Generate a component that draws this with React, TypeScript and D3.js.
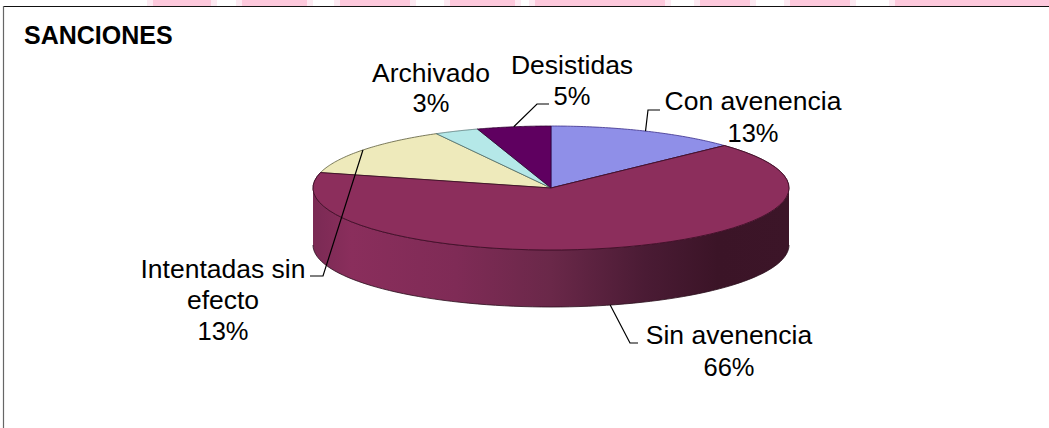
import React from "react";
import * as d3 from "d3";

const categories = ["Con avenencia", "Sin avenencia", "Intentadas sin efecto", "Archivado", "Desistidas"];
const values = [13, 66, 13, 3, 5];
const percentLabels = ["13%", "66%", "13%", "3%", "5%"];
const colors = ["#8f8fe8", "#8c2e5c", "#eeeabb", "#b5e8e8", "#5f0060"];
const strokes = ["#3b2f8a", "#4a1530", "#5b5b3a", "#4f7070", "#2e0030"];
const labelLines = [["Con avenencia"], ["Sin avenencia"], ["Intentadas sin", "efecto"], ["Archivado"], ["Desistidas"]];

const W = 1049, H = 428;
const cx = 551, cy = 188, rx = 238, ry = 62, depth = 57;
const FONT = "'Liberation Sans', Arial, sans-serif";

// projection of the flat pie onto the tilted ellipse
const px = d3.scaleLinear().domain([-1, 1]).range([cx - rx, cx + rx]);
const py = d3.scaleLinear().domain([-1, 1]).range([cy - ry, cy + ry]);
const pt = (a: number, dy = 0): [number, number] => [px(Math.sin(a)), py(-Math.cos(a)) + dy];

const arcs = d3.pie<number>().sort(null)(values);

function topPath(a0: number, a1: number) {
  const pts = d3.range(0, 61).map((i) => pt(a0 + ((a1 - a0) * i) / 60));
  return "M" + cx + "," + cy + "L" + pts.map((p) => p.join(",")).join("L") + "Z";
}
function wallPath(a0: number, a1: number) {
  const top = d3.range(0, 81).map((i) => pt(a0 + ((a1 - a0) * i) / 80));
  const bot = d3.range(80, -1, -1).map((i) => pt(a0 + ((a1 - a0) * i) / 80, depth));
  return "M" + top.concat(bot).map((p) => p.join(",")).join("L") + "Z";
}
function rimPath(a0: number, a1: number, dy: number) {
  return d3.line()(d3.range(0, 81).map((i) => pt(a0 + ((a1 - a0) * i) / 80, dy))) as string;
}

const midPoint = (i: number, dy = 0) => pt((arcs[i].startAngle + arcs[i].endAngle) / 2, dy);

const labelPos = [
  { x: 753, ys: [110, 142], leader: [[648, 110], [660, 110]] },
  { x: 729, ys: [344, 376], leader: [[630, 343], [638, 343]] },
  { x: 223, ys: [278, 309, 340], leader: [[323, 276], [310, 276]] },
  { x: 431, ys: [82, 112], leader: null },
  { x: 572, ys: [73.5, 105], leader: [[537, 104], [549, 104]] },
];

const pinkBands = [[153, 211], [242, 307], [340, 410], [450, 515], [535, 665], [700, 750], [790, 850], [895, 1049]];

export default function App() {
  const wallStart = Math.PI / 2, wallEnd = (3 * Math.PI) / 2;
  return (
    <svg width={W} height={H} viewBox={`0 0 ${W} ${H}`} style={{ position: "fixed", left: 0, top: 0, background: "#fff" }} fontFamily={FONT}>
      <defs>
        <linearGradient id="wall" gradientUnits="userSpaceOnUse" x1={cx - rx} x2={cx + rx} y1="0" y2="0">
          <stop offset="0" stopColor="#7a2a54" />
          <stop offset="0.08" stopColor="#8a2e5c" />
          <stop offset="0.3" stopColor="#7f2b56" />
          <stop offset="0.5" stopColor="#6a2849" />
          <stop offset="0.7" stopColor="#4a1b34" />
          <stop offset="0.85" stopColor="#3b1427" />
          <stop offset="1" stopColor="#3c1528" />
        </linearGradient>
      </defs>
      <rect width={W} height={H} fill="#fff" />
      {pinkBands.map(([a, b]) => (
        <rect key={"h" + a} x={a - 6} y={0} width={b - a + 12} height={6} fill="#fdeaf2" />
      ))}
      {pinkBands.map(([a, b]) => (
        <rect key={a} x={a} y={0} width={b - a} height={6} fill="#fdc9dc" />
      ))}
      <line x1={3.5} x2={W} y1={6.5} y2={6.5} stroke="#111" strokeWidth={1} />
      <line x1={3.5} x2={3.5} y1={6} y2={H} stroke="#666" strokeWidth={1.2} />
      <text x={24} y={44} fontSize={25} fontWeight={700} fill="#000">SANCIONES</text>

      <path d={wallPath(wallStart, wallEnd)} fill="url(#wall)" />
      <path d={rimPath(wallStart, wallEnd, depth)} fill="none" stroke="#2a0e1c" strokeWidth={0.8} />
      {arcs.map((a, i) => (
        <path key={i} d={topPath(a.startAngle, a.endAngle)} fill={colors[i]} stroke={strokes[i]} strokeWidth={0.8} strokeLinejoin="round" />
      ))}
      <path d={topPath(arcs[1].startAngle, arcs[1].endAngle)} fill={colors[1]} stroke="#3f1028" strokeWidth={0.9} />

      {labelPos.map((l, i) =>
        l.leader ? (
          <path
            key={i}
            d={d3.line()([midPoint(i, i === 1 ? depth : 0), ...(l.leader as [number, number][])]) as string}
            fill="none"
            stroke="#000"
            strokeWidth={1.2}
          />
        ) : null
      )}
      {labelPos.map((l, i) => {
        const lines = [...labelLines[i], percentLabels[i]];
        return lines.map((t, j) => (
          <text key={i + "-" + j} x={l.x} y={l.ys[j]} fontSize={j === lines.length - 1 ? 25.5 : 26.5} textAnchor="middle" fill="#000">{t}</text>
        ));
      })}
    </svg>
  );
}
